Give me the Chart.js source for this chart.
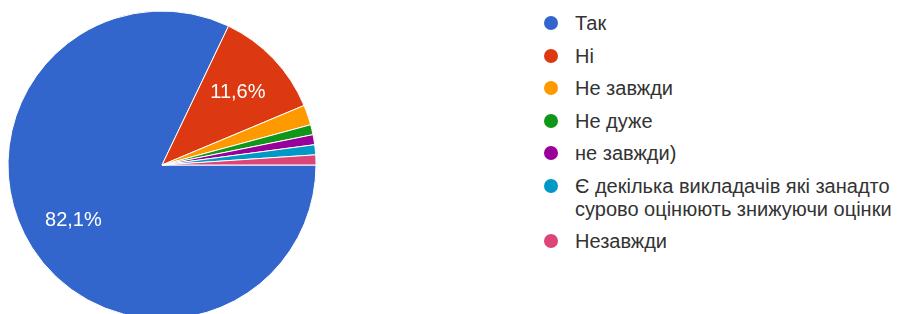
<!DOCTYPE html>
<html>
<head>
<meta charset="utf-8">
<script src="https://cdn.jsdelivr.net/npm/chart.js@4"></script>
<style>
  html, body { margin: 0; padding: 0; background: #fff; }
  body { width: 902px; height: 314px; overflow: hidden; position: relative; font-family: Arial, "Liberation Sans", sans-serif; }
  #pieBox { position: absolute; left: 0; top: 0; width: 324px; height: 330px; }
  #legend { position: absolute; left: 544px; top: 12px; margin: 0; padding: 0; list-style: none; }
  #legend li { position: relative; padding-left: 31px; font-size: 20px; line-height: 23px; color: #333; margin-bottom: 9.5px; white-space: nowrap; }
  #legend li span.dot { position: absolute; left: 0; top: 4px; width: 14px; height: 14px; border-radius: 50%; }
</style>
</head>
<body>
<div id="pieBox"><canvas id="pie"></canvas></div>
<ul id="legend"></ul>
<script>
// answers and number of responses (95 total)
const labels = ['Так', 'Ні', 'Не завжди', 'Не дуже', 'не завжди)', 'Є декілька викладачів які занадто\nсурово оцінюють знижуючи оцінки', 'Незавжди'];
const counts = [78, 11, 2, 1, 1, 1, 1];
const colors = ['#3366cc', '#dc3912', '#ff9900', '#109618', '#990099', '#0099c6', '#dd4477'];

// Build the legend on the right
const legend = document.getElementById('legend');
labels.forEach((label, i) => {
    const li = document.createElement('li');
    const dot = document.createElement('span');
    dot.className = 'dot';
    dot.style.background = colors[i];
    li.appendChild(dot);
    label.split('\n').forEach((line, j) => {
        if (j > 0) li.appendChild(document.createElement('br'));
        li.appendChild(document.createTextNode(line));
    });
    legend.appendChild(li);
});

// Percent labels inside the big slices
const percentLabels = {
    id: 'percentLabels',
    afterDatasetsDraw(chart) {
        const ctx = chart.ctx;
        const data = chart.data.datasets[0].data;
        const total = data.reduce((a, b) => a + b, 0);
        chart.getDatasetMeta(0).data.forEach((arc, i) => {
            const pct = data[i] / total * 100;
            if (pct < 5) return;
            const mid = (arc.startAngle + arc.endAngle) / 2;
            const r = arc.outerRadius * 0.68;
            const x = arc.x + Math.cos(mid) * r;
            const y = arc.y + Math.sin(mid) * r;
            ctx.save();
            ctx.fillStyle = '#fff';
            ctx.font = '20px Arial, "Liberation Sans", sans-serif';
            ctx.textAlign = 'center';
            ctx.textBaseline = 'middle';
            ctx.fillText(pct.toFixed(1).replace('.', ',') + '%', x, y);
            ctx.restore();
        });
    }
};

new Chart(document.getElementById('pie'), {
    type: 'pie',
    data: {
        labels: labels,
        datasets: [{
            data: counts,
            backgroundColor: colors,
            borderColor: '#fff',
            borderWidth: 1
        }]
    },
    options: {
        responsive: true,
        maintainAspectRatio: false,
        animation: false,
        rotation: 90,
        radius: 154,
        layout: { padding: 0 },
        plugins: {
            legend: { display: false },
            tooltip: { enabled: false }
        }
    },
    plugins: [percentLabels]
});
</script>
</body>
</html>
